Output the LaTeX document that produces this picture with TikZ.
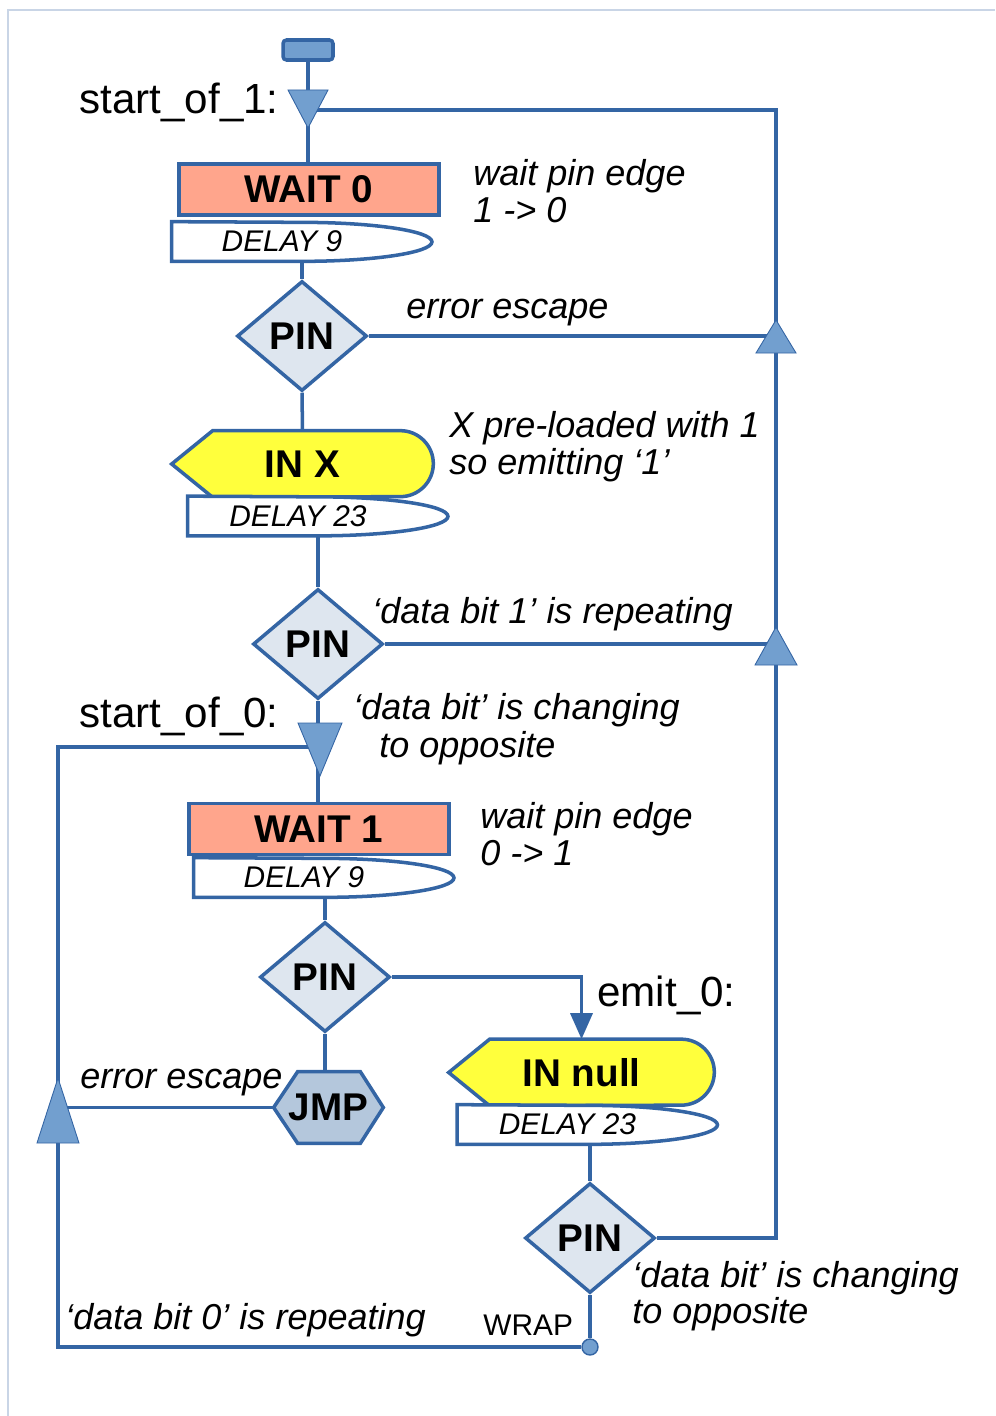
\documentclass[tikz,border=0pt]{standalone}
\usepackage{fontspec}
\setmainfont{Liberation Sans}
\usetikzlibrary{shapes.geometric,arrows.meta,backgrounds}

\definecolor{edgeblue}{HTML}{3465A4}
\definecolor{mergefill}{HTML}{729FCF}
\definecolor{pinfill}{HTML}{DEE6EF}
\definecolor{jmpfill}{HTML}{B4C7DC}
\definecolor{waitfill}{HTML}{FFA58C}
\definecolor{infill}{HTML}{FFFF3C}
\definecolor{framec}{HTML}{C9D5E6}

\begin{document}
\begin{tikzpicture}[
  x=0.02cm, y=0.02cm,
  every node/.style={inner sep=0pt},
  conn/.style={draw=edgeblue, line width=2pt},
  outl/.style={draw=edgeblue, line width=2pt},
  bold/.style={font=\fontsize{22}{26}\selectfont\bfseries},
  termbox/.style={rectangle, rounded corners=2pt, draw=edgeblue, line width=2pt,
    fill=mergefill, minimum width=1cm, minimum height=0.4cm},
  waitbox/.style={rectangle, outl, fill=waitfill, bold,
    minimum width=5.2cm, minimum height=1.02cm},
  pinbox/.style={diamond, outl, fill=pinfill, bold,
    minimum width=2.6cm, minimum height=2.2cm},
  % delay and IN outlines are drawn later, round the node anchors
  delaybox/.style={minimum width=5.2cm, minimum height=0.78cm,
    font=\fontsize{17}{20}\selectfont\itshape,
    execute at end node={\hspace{0.8cm}}},
  inbox/.style={bold, minimum height=1.32cm},
  jmpbox/.style={bold, minimum width=2.18cm, minimum height=1.42cm},
  merge/.style={fill=mergefill, draw=edgeblue, line width=0.5pt},
  note/.style={anchor=base west, font=\fontsize{20.5}{24}\selectfont\itshape},
  lbl/.style={font=\fontsize{24}{28}\selectfont}]

  \useasboundingbox (0,0) rectangle (995,-1416);
  \draw[framec, line width=0.6pt] (995,-10) -- (8,-10) -- (8,-1416);

  % steps
  \node[termbox]  (term)   at (308,-50)     {};
  \node[waitbox]  (wait0)  at (309,-189.5)  {WAIT 0};
  \node[delaybox] (delay1) at (302,-241.5)  {DELAY 9};
  \node[pinbox]   (pin1)   at (302,-336)    {PIN};
  \node[inbox, minimum width=5.22cm] (inx) at (302.5,-464) {IN X};
  \node[delaybox] (delay2) at (318,-516)    {DELAY 23};
  \node[pinbox]   (pin2)   at (318,-644)    {PIN};
  \node[waitbox]  (wait1)  at (319,-829)    {WAIT 1};
  \node[delaybox] (delay3) at (324,-877.5)  {DELAY 9};
  \node[pinbox]   (pin3)   at (325,-977)    {PIN};
  \node[jmpbox]   (jmp)    at (328.5,-1107.5) {JMP};
  \node[inbox, minimum width=5.3cm] (innull) at (581.5,-1072.5) {IN null};
  \node[delaybox] (delay4) at (587.5,-1124.5) {DELAY 23};
  \node[pinbox]   (pin4)   at (590,-1238)   {PIN};
  \node[circle, merge, line width=0.8pt, minimum size=0.32cm] (wrap) at (590,-1347) {};

  % corners of the two loops, and the merge points
  \coordinate (rtop) at (776,-110);
  \coordinate (ltop) at (58,-747);
  \coordinate (lbot) at (58,-1347);
  \coordinate (j1) at (308,-128);
  \coordinate (j2) at (776,-320);
  \coordinate (j3) at (776,-627);
  \coordinate (j4) at (320,-776);
  \coordinate (j5) at (58,-1078);

  \begin{scope}[on background layer]
    % flow lines
    \draw[conn] (term.south) -- (term.south |- wait0.north);
    \draw[conn] (delay1.south) -- (pin1.north);
    \draw[conn] (pin1.south) -- (inx.north);
    \draw[conn] (delay2.south) -- (pin2.north);
    \draw[conn] (pin2.south) -- (pin2.south |- wait1.north);
    \draw[conn] (pin3.north |- delay3.south) -- (pin3.north);
    \draw[conn] (pin3.south) -- (pin3.south |- jmp.north);
    \draw[conn, -{Triangle[length=0.52cm, width=0.44cm]}] (pin3.east) -| (innull.north);
    \draw[conn] (pin4.north |- delay4.south) -- (pin4.north);
    \draw[conn] (pin4.south) -- (wrap);
    \draw[conn] (pin4.east) -| (rtop) -- (rtop -| j1);
    \draw[conn] (pin1.east) -- (pin1.east -| rtop);
    \draw[conn] (pin2.east) -- (pin2.east -| rtop);
    \draw[conn] (wrap) -- (lbot) -- (ltop) -- (ltop -| j4);
    \draw[conn] (jmp.west) -- (jmp.west -| ltop);

    % outlines of the IN, DELAY and JMP steps
    \foreach \nm in {inx,innull}
      \draw[outl, fill=infill] (\nm.west) -- ([xshift=0.82cm]\nm.north west)
        -- ([xshift=-0.66cm]\nm.north east) arc[start angle=90, end angle=-90, radius=0.66cm]
        -- ([xshift=0.82cm]\nm.south west) -- cycle;
    \foreach \nm in {delay1,delay2,delay3,delay4}
      \draw[outl, fill=white] (\nm.north west) -- (\nm.south west) -- (\nm.south)
        arc[start angle=-90, end angle=90, x radius=2.6cm, y radius=0.39cm] -- cycle;
    \draw[outl, fill=jmpfill] (jmp.west) -- ([xshift=0.48cm]jmp.north west)
      -- ([xshift=-0.46cm]jmp.north east) -- (jmp.east)
      -- ([xshift=-0.46cm]jmp.south east) -- ([xshift=0.48cm]jmp.south west) -- cycle;
  \end{scope}

  % merge triangles
  \path[merge] (j1) -- ++(-20,38) -- ++(40,0) -- cycle;
  \path[merge] (j2) -- ++(-20,-33) -- ++(40,0) -- cycle;
  \path[merge] (j3) -- ++(-21,-38) -- ++(42,0) -- cycle;
  \path[merge] (j4) -- ++(-22,53) -- ++(44,0) -- cycle;
  \path[merge] (j5) -- ++(-21,-65) -- ++(42,0) -- cycle;

  % labels
  \node[lbl, anchor=base east] (start1) at (279,-113)  {start\_of\_1:};
  \node[lbl, anchor=base east] (start0) at (279,-727)  {start\_of\_0:};
  \node[lbl, anchor=base west] (emit0)  at (597,-1006) {emit\_0:};
  \node[anchor=base west, font=\fontsize{17}{20}\selectfont] (wraplbl) at (483,-1335) {WRAP};

  % comments
  \node[note] (c1a) at (473,-185)  {wait pin edge};
  \node[note] (c1b) at (473,-222)  {1 -> 0};
  \node[note] (c2)  at (406,-318)  {error escape};
  \node[note] (c3a) at (449,-437)  {X pre-loaded with 1};
  \node[note] (c3b) at (449,-474)  {so emitting ‘1’};
  \node[note] (c4)  at (372,-623)  {‘data bit 1’ is repeating};
  \node[note] (c5a) at (353,-719)  {‘data bit’ is changing};
  \node[note] (c5b) at (379,-757)  {to opposite};
  \node[note] (c6a) at (480,-828)  {wait pin edge};
  \node[note] (c6b) at (480,-865)  {0 -> 1};
  \node[note] (c7)  at (80,-1088)  {error escape};
  \node[note] (c8)  at (65,-1329)  {‘data bit 0’ is repeating};
  \node[note] (c9a) at (632,-1287) {‘data bit’ is changing};
  \node[note] (c9b) at (632,-1323) {to opposite};
\end{tikzpicture}
\end{document}
